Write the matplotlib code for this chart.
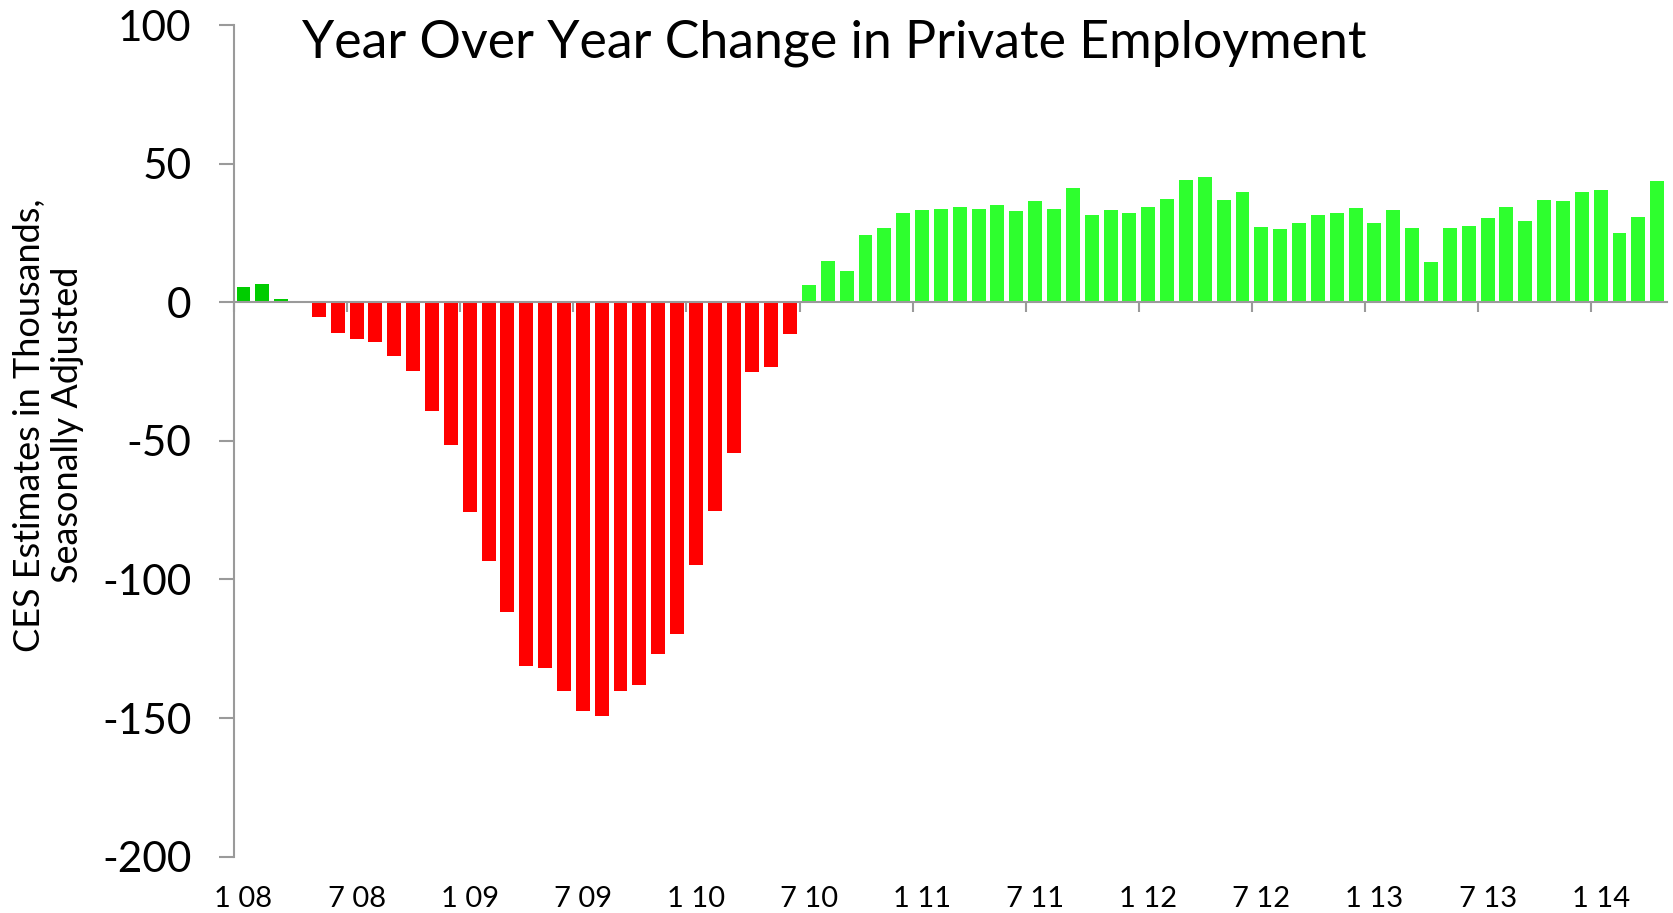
import numpy as np
import matplotlib
matplotlib.use('Agg')
import matplotlib.pyplot as plt

# monthly year-over-year change, Jan 2008 .. Apr 2014
values = [
    5.5, 6.6, 1.2, 0.0, -5.4, -11.0, -13.1, -14.5, -19.5, -24.7, -39.2, -51.4,
    -75.7, -93.3, -111.9, -131.2, -131.8, -140.2, -147.5, -149.3, -140.2, -138.1, -127.0, -119.8,
    -94.9, -75.3, -54.5, -25.3, -23.3, -11.6, 6.3, 14.9, 11.3, 24.3, 26.9, 32.3,
    33.4, 33.7, 34.5, 33.7, 35.2, 33.0, 36.6, 33.7, 41.3, 31.6, 33.4, 32.3,
    34.5, 37.3, 44.2, 45.3, 37.0, 39.9, 27.2, 26.5, 28.7, 31.6, 32.3, 34.1,
    28.7, 33.4, 26.9, 14.6, 26.9, 27.6, 30.5, 34.5, 29.4, 37.0, 36.6, 39.9,
    40.6, 25.1, 30.8, 43.9,
]
tick_labels = ['1 08', '7 08', '1 09', '7 09', '1 10', '7 10', '1 11',
               '7 11', '1 12', '7 12', '1 13', '7 13', '1 14']
yticks = [-200, -150, -100, -50, 0, 50, 100]

title = 'Year Over Year Change in Private Employment'
ylabel = 'CES Estimates in Thousands,\nSeasonally Adjusted'

RED = '#ff0000'
GREEN = '#2eff2e'
DARK_GREEN = '#00cc00'
N_EARLY = 3  # first months drawn in darker green
AXIS_GRAY = '#9a9a9a'

plt.rcParams['font.family'] = ['Lato', 'DejaVu Sans']


def main():
    x = np.arange(len(values))
    colors = []
    for i, v in enumerate(values):
        if v < 0:
            colors.append(RED)
        elif i < N_EARLY:
            colors.append(DARK_GREEN)
        else:
            colors.append(GREEN)

    fig = plt.figure(figsize=(16.73, 9.13), dpi=100)
    ax = fig.add_axes([0.1399, 0.0617, 0.8563, 0.9108])

    ax.bar(x, values, width=0.74, color=colors, linewidth=0)

    ax.set_xlim(-0.5, len(values) - 0.5)
    ax.set_ylim(-200, 100)

    for s in ['top', 'right']:
        ax.spines[s].set_visible(False)
    ax.spines['bottom'].set_position(('data', 0))
    for s in ['left', 'bottom']:
        ax.spines[s].set_color(AXIS_GRAY)
        ax.spines[s].set_linewidth(1.5)

    ax.set_yticks(yticks)
    ax.set_yticklabels([str(t) for t in yticks], fontsize=30.5)
    ax.tick_params(axis='y', direction='out', length=10.6, width=1.5,
                   color=AXIS_GRAY, pad=20)

    ax.set_xticks(np.arange(-0.5, len(values) - 1, 6))
    ax.set_xticklabels([])
    ax.tick_params(axis='x', direction='out', length=7.2, width=1.5,
                   color=AXIS_GRAY)

    trans = ax.get_xaxis_transform()
    for k, lab in enumerate(tick_labels):
        ax.text(k * 6, -0.0665, lab, transform=trans, ha='center',
                va='bottom', fontsize=21)

    fig.text(0.4985, 0.953, title, ha='center', va='center', fontsize=37.4)
    fig.text(0.029, 0.5345, ylabel, rotation=90, ha='center', va='center',
             fontsize=26, multialignment='center')

    fig.savefig('out.png', dpi=100)


if __name__ == '__main__':
    main()
